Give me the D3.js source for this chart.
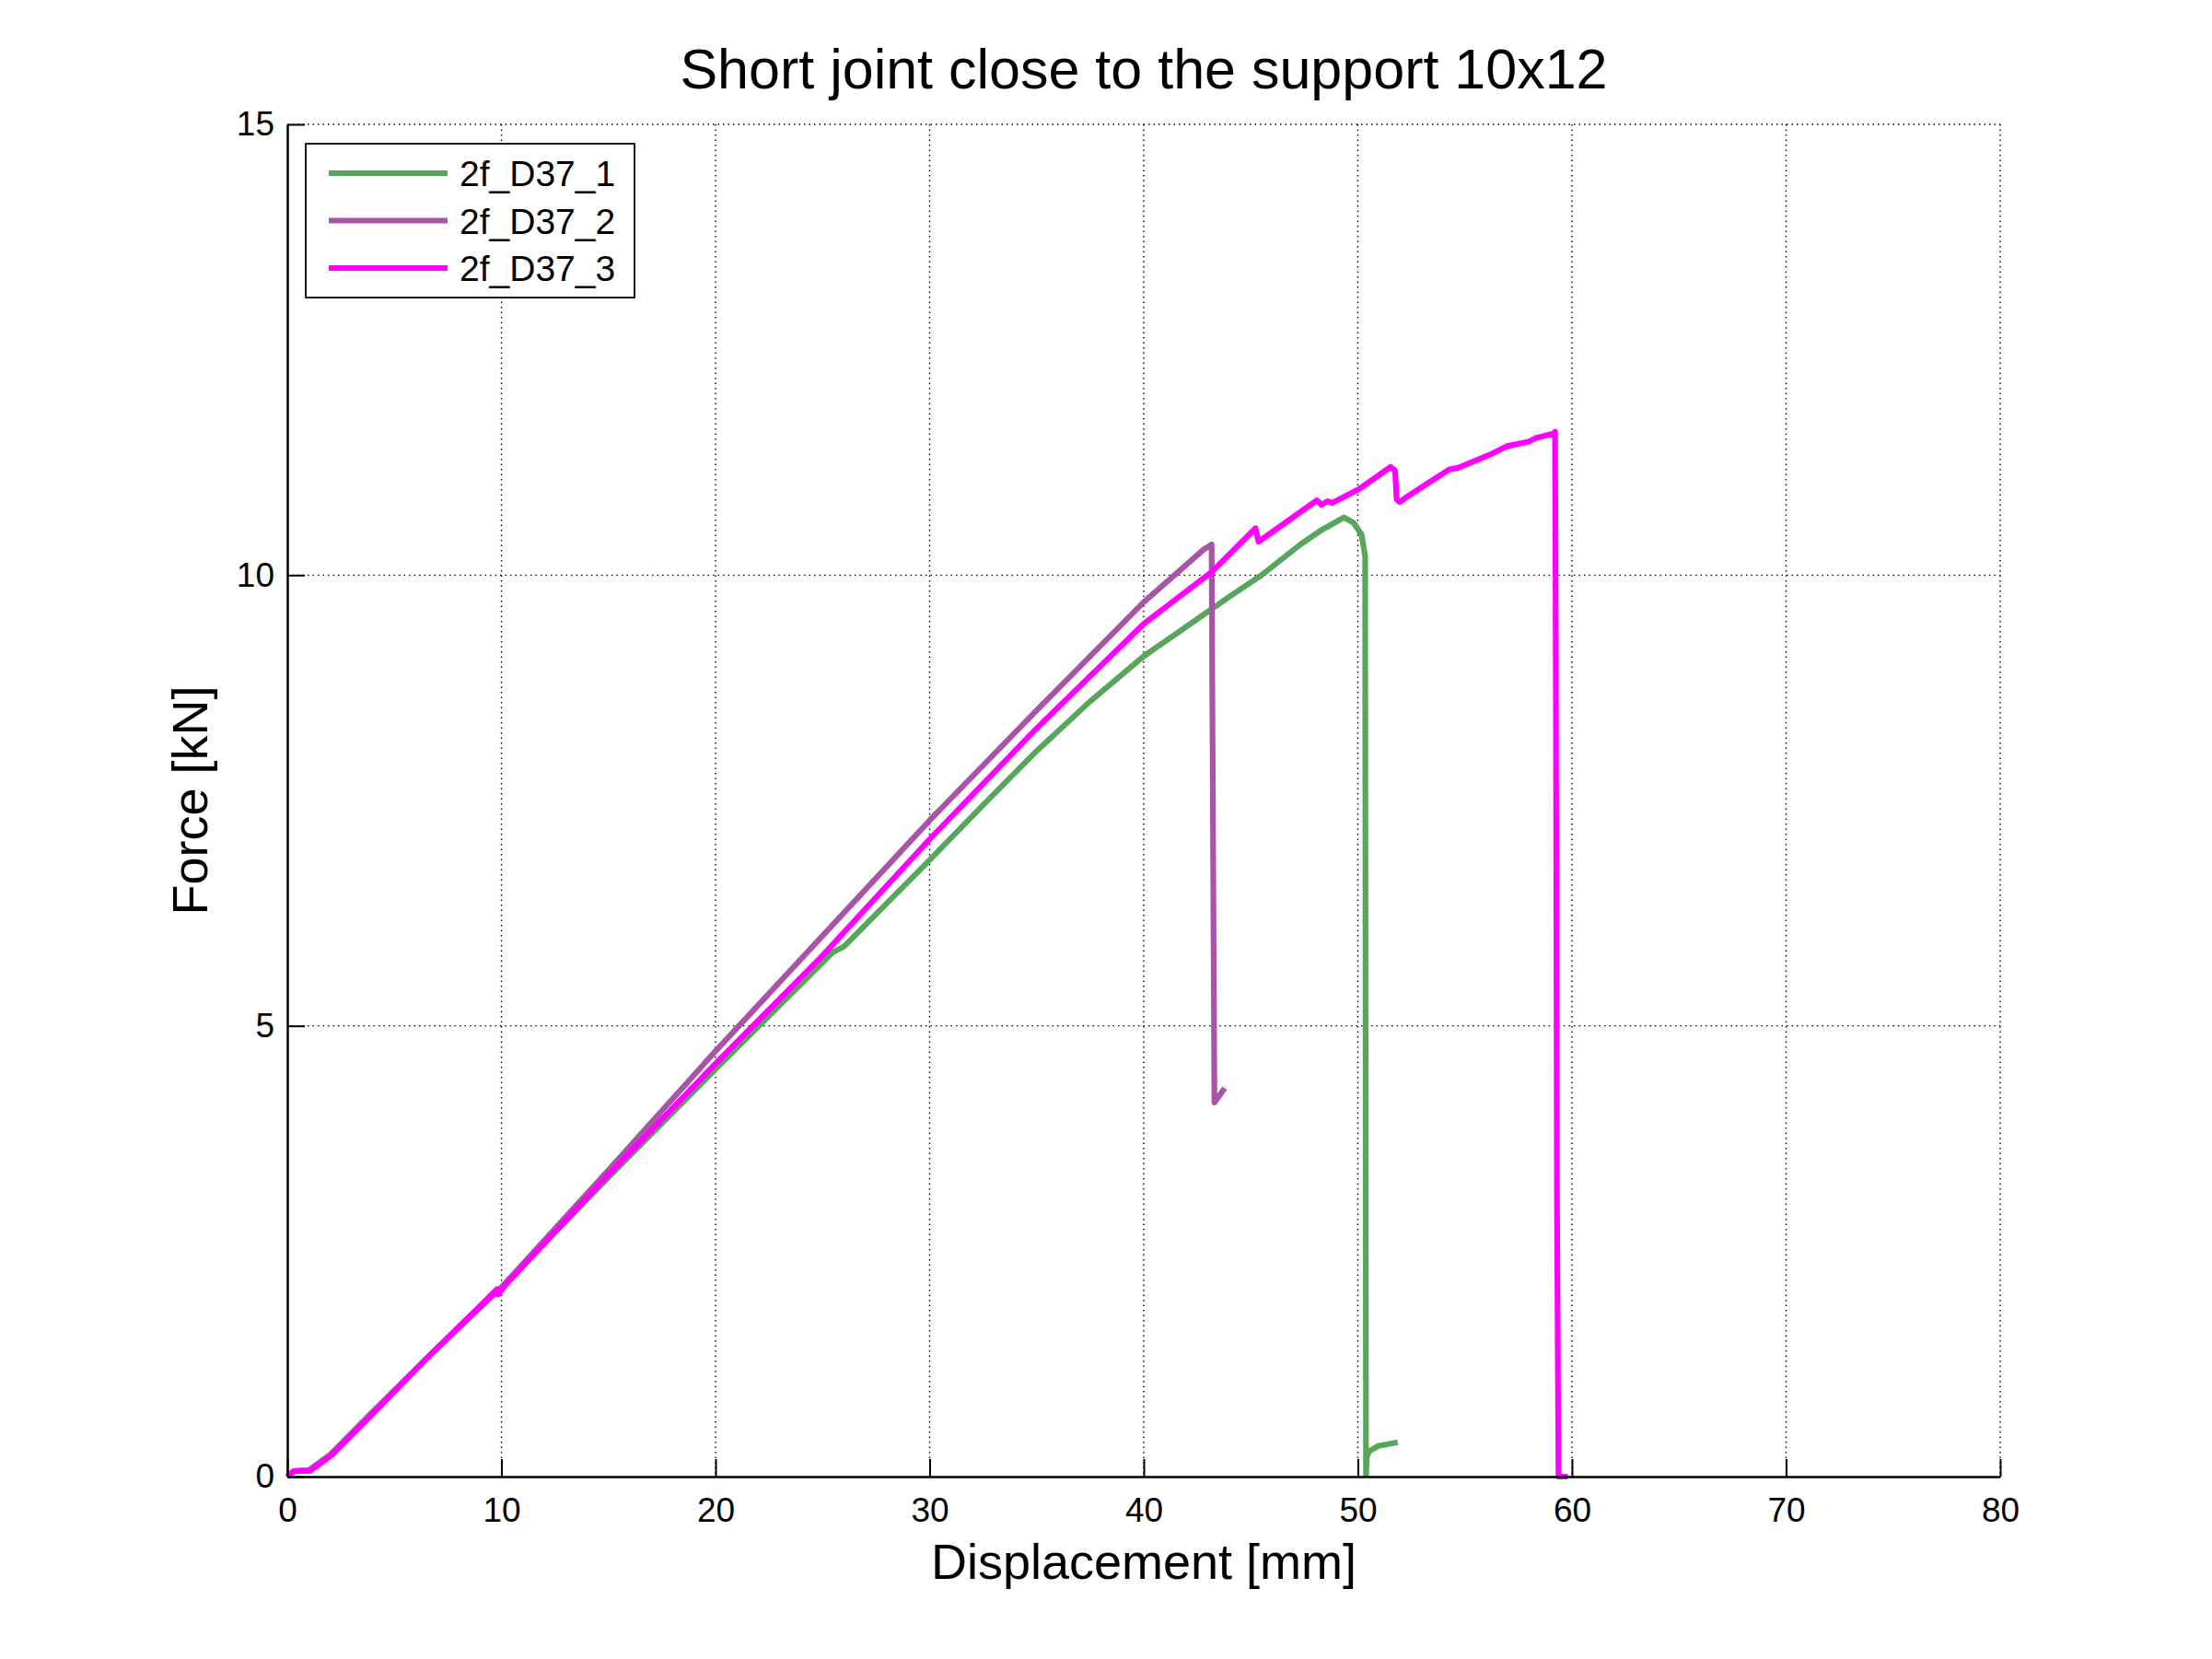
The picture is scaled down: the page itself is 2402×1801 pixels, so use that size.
<html>
<head>
<title>Short joint close to the support 10x12</title>
<script src="https://d3js.org/d3.v7.min.js"></script>
</head>
<style>
body { margin: 0; background: #fff; }
svg { display: block; }
text { font-family: "Liberation Sans", Arial, sans-serif; fill: #000; }
</style>
<body>
<svg id="chart" width="2402" height="1801"></svg>

<script>
// data: displacement [mm] / force [kN]
var names = ["2f_D37_1", "2f_D37_2", "2f_D37_3"];
var colors = ["#58a65c", "#a855a8", "#ff00ff"];

var disp1 = [0, 0.3, 1.0, 2.0, 4, 6.67, 10, 15, 20, 25.5, 26, 30, 32.5, 35, 37.5, 40, 42, 44, 45.5, 47.37, 48.37, 49.35, 49.8, 50.17, 50.34, 50.38, 50.42, 50.52, 50.95, 51.86];
var force1 = [0, 0.06, 0.07, 0.24, 0.72, 1.35, 2.1, 3.32, 4.52, 5.82, 5.88, 6.84, 7.45, 8.05, 8.6, 9.1, 9.43, 9.76, 10.0, 10.35, 10.51, 10.64, 10.58, 10.45, 10.21, 0.02, 0.22, 0.28, 0.34, 0.38];

var disp2 = [0, 0.3, 1.0, 2.0, 4, 6.67, 10, 15, 20, 25, 30, 35, 40, 42.78, 43.17, 43.2, 43.3, 43.78];
var force2 = [0, 0.06, 0.07, 0.24, 0.72, 1.35, 2.1, 3.4, 4.72, 6.0, 7.28, 8.5, 9.70, 10.28, 10.34, 8.8, 4.15, 4.31];

var disp3 = [0, 0.3, 1.06, 2.06, 4, 6.67, 8.09, 9.8, 9.85, 10.2, 15, 20, 25, 30, 35, 40, 43.2, 45.22, 45.36, 48.09, 48.3, 48.59, 48.8, 50.09, 51.53, 51.74, 51.81, 51.96, 52.24, 54.25, 54.68, 56.11, 56.97, 57.98, 58.31, 59.13, 59.21, 59.25, 59.3, 59.37, 59.8];
var force3 = [0, 0.06, 0.065, 0.235, 0.7, 1.35, 1.68, 2.08, 2.02, 2.13, 3.35, 4.58, 5.78, 7.07, 8.3, 9.46, 10.04, 10.52, 10.37, 10.83, 10.78, 10.82, 10.80, 10.96, 11.2, 11.16, 10.84, 10.81, 10.86, 11.17, 11.19, 11.33, 11.43, 11.48, 11.52, 11.57, 11.59, 8.7, 3.0, 0, 0];

var xTicks = [0, 10, 20, 30, 40, 50, 60, 70, 80];
var yTicks = [0, 5, 10, 15];

var plotLeft = 312, plotRight = 2172, plotTop = 135, plotBottom = 1603;

var svg = d3.select("#chart");

var xScale = d3.scaleLinear().domain([0, 80]).range([plotLeft, plotRight]);
var yScale = d3.scaleLinear().domain([0, 15]).range([plotBottom, plotTop]);

// dotted grid
var grid = svg.append("g");
grid.selectAll("line.vg").data(xTicks.slice(1)).enter().append("line")
	.attr("class", "vg")
	.attr("x1", function(d){ return xScale(d); })
	.attr("x2", function(d){ return xScale(d); })
	.attr("y1", plotTop).attr("y2", plotBottom);
grid.selectAll("line.hg").data(yTicks.slice(1)).enter().append("line")
	.attr("class", "hg")
	.attr("x1", plotLeft).attr("x2", plotRight)
	.attr("y1", function(d){ return yScale(d); })
	.attr("y2", function(d){ return yScale(d); });
grid.selectAll("line")
	.attr("stroke", "#000")
	.attr("stroke-width", 1.4)
	.attr("stroke-dasharray", "1.5,4");

// curves
var series = [
	{disp: disp1, force: force1},
	{disp: disp2, force: force2},
	{disp: disp3, force: force3}
];
var line = d3.line()
	.x(function(d){ return xScale(d[0]); })
	.y(function(d){ return yScale(d[1]); });

series.forEach(function(s, i){
	var pts = s.disp.map(function(x, j){ return [x, s.force[j]]; });
	svg.append("path")
		.attr("d", line(pts))
		.attr("fill", "none")
		.attr("stroke", colors[i])
		.attr("stroke-width", 6.2)
		.attr("stroke-linejoin", "round");
});

// axes
var xAxis = d3.axisBottom(xScale).tickValues(xTicks).tickSizeInner(-19).tickSizeOuter(0).tickPadding(23);
var yAxis = d3.axisLeft(yScale).tickValues(yTicks).tickSizeInner(-19).tickSizeOuter(0).tickPadding(14);

var gx = svg.append("g").attr("transform", "translate(0," + plotBottom + ")").call(xAxis);
var gy = svg.append("g").attr("transform", "translate(" + plotLeft + ",0)").call(yAxis);

[gx, gy].forEach(function(g){
	g.select(".domain").attr("stroke", "#000").attr("stroke-width", 2.5);
	g.selectAll(".tick line").attr("stroke", "#000").attr("stroke-width", 2);
	g.selectAll(".tick text")
		.style("font-family", "'Liberation Sans', Arial, sans-serif")
		.style("font-size", "37px")
		.attr("fill", "#000");
});

// titles
svg.append("text")
	.attr("x", (plotLeft + plotRight) / 2).attr("y", 96)
	.attr("text-anchor", "middle")
	.style("font-size", "61px")
	.text("Short joint close to the support 10x12");

svg.append("text")
	.attr("x", (plotLeft + plotRight) / 2).attr("y", 1714)
	.attr("text-anchor", "middle")
	.style("font-size", "54px")
	.text("Displacement [mm]");

svg.append("text")
	.attr("transform", "translate(225," + ((plotTop + plotBottom) / 2) + ") rotate(-90)")
	.attr("text-anchor", "middle")
	.style("font-size", "54px")
	.text("Force [kN]");

// legend
var legend = svg.append("g");
legend.append("rect")
	.attr("x", 332).attr("y", 156)
	.attr("width", 357).attr("height", 167)
	.attr("fill", "#fff")
	.attr("stroke", "#000")
	.attr("stroke-width", 1.8);

var rowY = [188, 239.5, 291];
names.forEach(function(n, i){
	legend.append("line")
		.attr("x1", 357).attr("x2", 486)
		.attr("y1", rowY[i]).attr("y2", rowY[i])
		.attr("stroke", colors[i])
		.attr("stroke-width", 6);
	legend.append("text")
		.attr("x", 499).attr("y", rowY[i] + 14)
		.style("font-size", "39px")
		.text(n);
});
</script>
</body>
</html>
